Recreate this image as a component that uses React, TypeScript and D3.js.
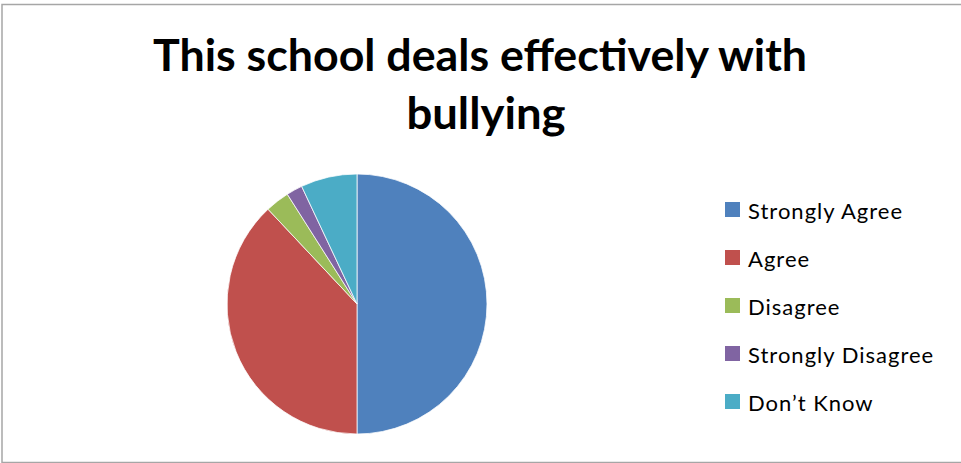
import React from "react";
import * as d3 from "d3";

const categories = ["Strongly Agree", "Agree", "Disagree", "Strongly Disagree", "Don\u2019t Know"];
const values = [50, 38, 3, 2, 7];
const colors = ["#4F81BD", "#C0504D", "#9BBB59", "#8064A2", "#4BACC6"];
const titleLines = ["This school deals effectively with", "bullying"];

const W = 961;
const H = 463;

export default function App() {
  const cx = 357;
  const cy = 304;
  const r = 130;
  const data = categories.map((c, i) => ({ label: c, value: values[i], color: colors[i] }));
  const pie = d3.pie<any>().sort(null).value((d: any) => d.value);
  const arc = d3.arc<any>().innerRadius(0).outerRadius(r);
  const arcs = pie(data);

  const legendY = d3.scalePoint<string>().domain(categories).range([210, 402]);

  return (
    <svg width={W} height={H} style={{ position: "absolute", left: 0, top: 0, background: "#fff" }}>
      <rect x={0} y={0} width={W} height={H} fill="#fff" />
      <rect x={2} y={4.5} width={W + 10} height={458} fill="none" stroke="#a6a6a6" strokeWidth={1.5} />
      <g fontFamily="Lato, 'Open Sans', sans-serif" fontWeight="bold" fill="#000" textAnchor="middle">
        <text x={480} y={71} fontSize={44} textLength={654} lengthAdjust="spacingAndGlyphs">
          {titleLines[0]}
        </text>
        <text x={486} y={128.5} fontSize={44} textLength={159} lengthAdjust="spacingAndGlyphs">
          {titleLines[1]}
        </text>
      </g>
      <g transform={`translate(${cx},${cy})`}>
        {arcs.map((a, i) => (
          <path key={i} d={arc(a) as string} fill={a.data.color} stroke="#fff" strokeWidth={0.75} />
        ))}
      </g>
      <g fontFamily="Lato, 'Open Sans', sans-serif" fontSize={22} letterSpacing={1}>
        {categories.map((c, i) => (
          <g key={c} transform={`translate(0,${legendY(c)})`}>
            <rect x={725} y={-8} width={15} height={15} fill={colors[i]} />
            <text x={748} y={0} dominantBaseline="central" fill="#000">
              {c}
            </text>
          </g>
        ))}
      </g>
    </svg>
  );
}
